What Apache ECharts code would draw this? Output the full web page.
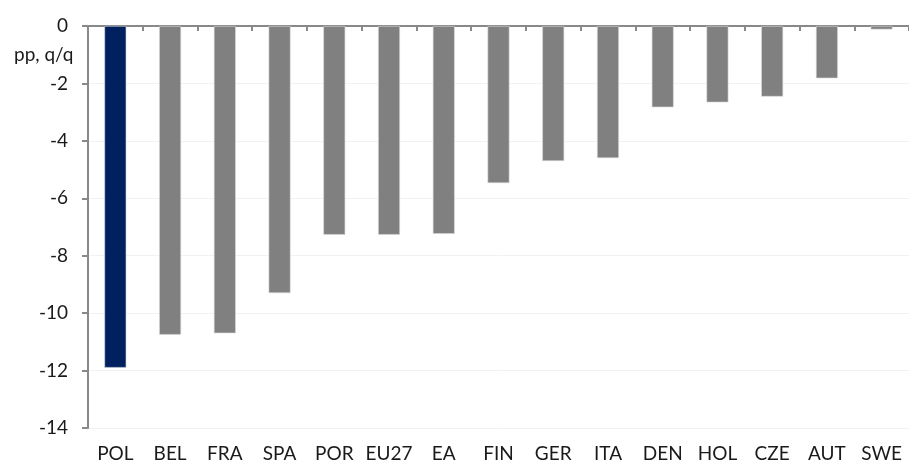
<!DOCTYPE html>
<html><head><meta charset="utf-8">
<script src="https://cdn.jsdelivr.net/npm/echarts@6/dist/echarts.min.js"></script>
<style>html,body{margin:0;padding:0;background:#fff}#c{width:909px;height:464px}</style>
</head><body><div id="c"></div>
<script>
const categories = ['POL','BEL','FRA','SPA','POR','EU27','EA','FIN','GER','ITA','DEN','HOL','CZE','AUT','SWE'];
const values = [-11.9,-10.75,-10.7,-9.3,-7.27,-7.27,-7.24,-5.47,-4.7,-4.6,-2.83,-2.66,-2.46,-1.82,-0.12];
const highlight = 'POL';
const yTicks = {min:-14, max:0, interval:2};
const unitLabel = 'pp, q/q';

const FONT = 'Lato';
const FS = 19;
const chart = echarts.init(document.getElementById('c'));
chart.setOption({
  animation:false,
  backgroundColor:'#fff',
  grid:{left:88, top:26, width:828, height:402},
  graphic:[{type:'text', x:14, y:55, style:{text:unitLabel, font:FS+'px '+FONT, fill:'#1a1a1a', verticalAlign:'middle', align:'left'}}],
  xAxis:[
    {type:'category', data:categories, position:'top', boundaryGap:true,
     axisLine:{lineStyle:{color:'#898989', width:2}},
     axisTick:{show:true, inside:true, length:5, interval:0, lineStyle:{color:'#898989', width:2}},
     axisLabel:{show:false}, splitLine:{show:false}},
    {type:'category', data:categories, position:'bottom', boundaryGap:true,
     axisLine:{show:false}, axisTick:{show:false},
     axisLabel:{show:true, interval:0, hideOverlap:false, margin:16, fontSize:FS, fontFamily:FONT, color:'#1a1a1a'}}
  ],
  yAxis:{type:'value', min:yTicks.min, max:yTicks.max, interval:yTicks.interval,
    axisLine:{show:true, lineStyle:{color:'#898989', width:2}},
    axisTick:{show:true, length:6, lineStyle:{color:'#898989', width:2}},
    axisLabel:{margin:20, fontSize:FS, fontFamily:FONT, color:'#1a1a1a'},
    splitLine:{show:true, lineStyle:{color:'#f2f2f2', width:1}}},
  series:[{type:'bar', xAxisIndex:0, barWidth:'40%',
    data: values.map((v,i)=>({value:v, itemStyle:{color: categories[i]===highlight ? '#002060' : '#808080'}})),
    itemStyle:{borderColor:'#d9d9d9', borderWidth:0.6}}]
});
</script></body></html>
